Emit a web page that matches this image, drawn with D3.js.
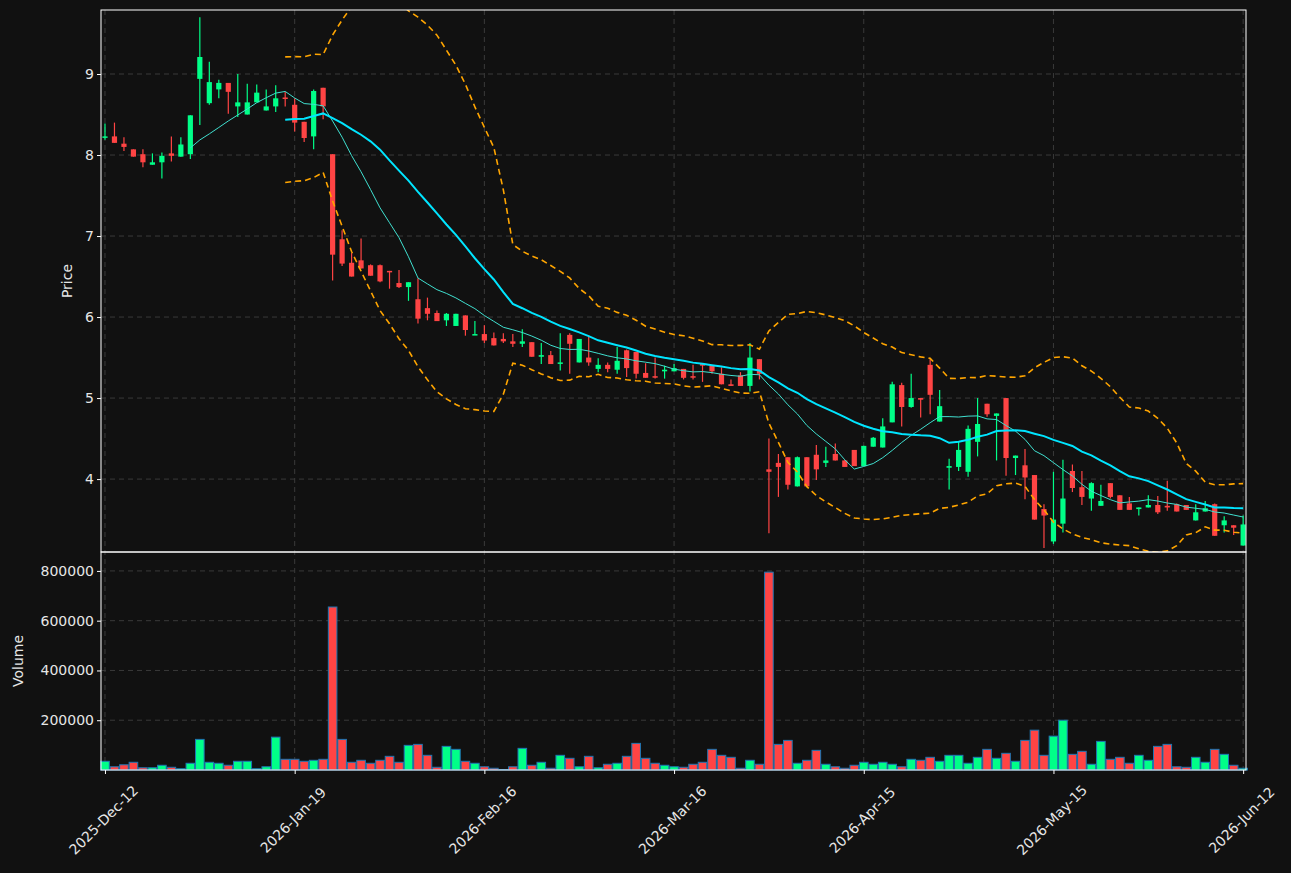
<!DOCTYPE html>
<html><head><meta charset="utf-8">
<script src="https://cdn.jsdelivr.net/npm/d3@7"></script>
<style>body{margin:0;background:#111111;}svg{display:block;font-family:"DejaVu Sans",sans-serif;}</style>
</head><body><svg id="c" width="1291" height="873"></svg>
<script>
const openP=[8.22,8.23,8.14,8.07,8.01,7.88,7.91,8.02,7.98,8.01,8.94,8.64,8.81,8.89,8.60,8.50,8.65,8.55,8.60,8.71,
8.62,8.41,8.23,8.83,8.01,6.96,6.67,6.70,6.64,6.64,6.57,6.42,6.37,6.22,6.11,6.05,5.96,5.89,6.02,5.78,
5.79,5.74,5.73,5.70,5.67,5.69,5.51,5.53,5.43,5.78,5.44,5.50,5.36,5.41,5.35,5.59,5.57,5.31,5.27,5.33,
5.33,5.36,5.27,5.42,5.40,5.30,5.17,5.28,5.15,5.48,4.12,4.20,4.27,3.91,4.27,4.30,4.20,4.31,4.23,4.36,
4.16,4.40,4.39,4.70,5.16,4.89,5.00,5.41,4.71,4.14,4.15,4.09,4.46,4.93,4.78,5.00,4.26,4.17,4.05,3.63,
3.23,3.45,4.10,3.90,3.76,3.67,3.95,3.80,3.70,3.63,3.65,3.68,3.67,3.69,3.68,3.49,3.60,3.69,3.43,3.43,3.18];
const closeP=[8.23,8.15,8.10,7.98,7.91,7.91,7.99,7.99,8.13,8.49,9.21,8.90,8.89,8.78,8.65,8.65,8.77,8.60,8.70,8.70,
8.40,8.21,8.79,8.60,6.77,6.66,6.50,6.60,6.51,6.44,6.56,6.37,6.43,5.98,6.04,5.95,6.04,6.04,5.84,5.79,
5.71,5.65,5.70,5.67,5.70,5.51,5.53,5.42,5.44,5.67,5.73,5.44,5.41,5.36,5.46,5.37,5.30,5.25,5.26,5.35,
5.37,5.25,5.26,5.40,5.33,5.17,5.15,5.15,5.50,5.30,4.09,4.15,3.93,4.27,3.91,4.12,4.23,4.23,4.15,4.16,
4.41,4.51,4.65,5.17,4.89,5.00,4.98,5.04,4.90,4.16,4.36,4.62,4.68,4.80,4.81,4.26,4.29,4.02,3.50,3.55,
3.50,3.76,3.89,3.78,3.95,3.73,3.78,3.62,3.62,3.65,3.68,3.59,3.65,3.60,3.62,3.59,3.64,3.30,3.49,3.40,3.44];
const highP=[8.39,8.40,8.22,8.07,8.07,8.02,8.03,8.23,8.22,8.49,9.70,9.15,8.93,8.89,9.00,8.88,8.87,8.81,8.86,8.78,
8.70,8.41,8.81,8.83,8.01,7.07,6.79,6.97,6.65,6.65,6.57,6.58,6.43,6.48,6.24,6.08,6.05,6.04,6.02,5.95,
5.90,5.81,5.80,5.79,5.85,5.69,5.68,5.58,5.80,5.80,5.73,5.77,5.49,5.44,5.63,5.60,5.57,5.43,5.50,5.40,
5.42,5.36,5.41,5.42,5.40,5.38,5.23,5.32,5.68,5.48,4.50,4.31,4.27,4.28,4.27,4.42,4.40,4.44,4.24,4.36,
4.41,4.52,4.75,5.20,5.19,5.30,5.00,5.48,5.10,4.25,4.46,4.66,5.00,4.93,4.81,5.00,4.29,4.37,4.05,3.69,
4.09,4.24,4.18,4.10,3.96,3.93,3.95,3.80,3.78,3.65,3.80,3.79,3.98,3.70,3.68,3.69,3.73,3.70,3.54,3.43,3.55];
const lowP=[8.19,8.15,8.05,7.98,7.85,7.88,7.71,7.92,7.98,7.95,8.37,8.62,8.70,8.51,8.47,8.50,8.65,8.55,8.53,8.60,
8.29,8.16,8.07,8.44,6.45,6.63,6.50,6.60,6.51,6.43,6.35,6.36,6.20,5.92,5.96,5.95,5.89,5.89,5.77,5.78,
5.68,5.65,5.68,5.63,5.63,5.51,5.42,5.42,5.34,5.30,5.44,5.40,5.32,5.32,5.30,5.26,5.24,5.25,5.24,5.24,
5.33,5.23,5.23,5.20,5.30,5.17,5.15,5.15,5.08,5.23,3.33,3.78,3.87,3.91,3.91,3.99,4.15,4.23,4.15,4.16,
4.16,4.40,4.39,4.70,4.65,4.88,4.76,4.80,4.71,3.87,4.10,4.03,4.28,4.77,4.23,4.04,4.05,3.75,3.50,3.15,
3.20,3.34,3.84,3.68,3.61,3.67,3.76,3.62,3.62,3.55,3.65,3.57,3.61,3.60,3.62,3.49,3.60,3.30,3.34,3.31,3.18];
const volumes=[35000,13000,21000,31000,9000,9000,19000,11000,5000,27000,123000,31000,27000,19000,35000,35000,5000,13000,132000,43000,
43000,35000,39000,43000,655000,123000,31000,39000,27000,39000,55000,31000,99000,103000,59000,11000,95000,83000,35000,27000,
13000,7000,2000,13000,87000,19000,31000,7000,59000,47000,13000,55000,9000,23000,27000,55000,107000,47000,27000,19000,
13000,11000,23000,31000,83000,59000,51000,7000,39000,23000,795000,103000,119000,27000,39000,79000,23000,13000,7000,19000,
31000,23000,31000,23000,13000,43000,39000,51000,35000,59000,59000,27000,51000,83000,47000,67000,35000,119000,160000,59000,
136000,200000,63000,75000,23000,115000,43000,51000,27000,59000,39000,95000,103000,13000,11000,51000,31000,83000,63000,19000,7000];
const tickIdx=[0,20,40,60,80,100,120];
const tickLabels=["2025-Dec-12","2026-Jan-19","2026-Feb-16","2026-Mar-16","2026-Apr-15","2026-May-15","2026-Jun-12"];
const priceTicks=[4,5,6,7,8,9];
const volTicks=[200000,400000,600000,800000];

const svg=d3.select("#c");
const L=101,R=1246,T=10,M=552,B=770;
const n=closeP.length;
const x=d3.scaleLinear().domain([-0.42,120.3]).range([L,R]);
const y=d3.scaleLinear().domain([3.10,9.79]).range([M,T]);
const yv=d3.scaleLinear().domain([0,876000]).range([B,M]);
const up="#00ff88",dn="#ff4444",grid="#3a3a3a",txt="#e6e6e6";
svg.append("rect").attr("width",1291).attr("height",873).attr("fill","#111111");

const g=svg.append("g");
tickIdx.forEach(i=>{g.append("line").attr("x1",x(i)).attr("x2",x(i)).attr("y1",T).attr("y2",B).attr("stroke",grid).attr("stroke-dasharray","5,4");});
priceTicks.forEach(v=>{g.append("line").attr("x1",L).attr("x2",R).attr("y1",y(v)).attr("y2",y(v)).attr("stroke",grid).attr("stroke-dasharray","5,4");});
volTicks.forEach(v=>{g.append("line").attr("x1",L).attr("x2",R).attr("y1",yv(v)).attr("y2",yv(v)).attr("stroke",grid).attr("stroke-dasharray","5,4");});

const idx=d3.range(n);
svg.append("clipPath").attr("id","cp").append("rect").attr("x",L).attr("y",T).attr("width",R-L).attr("height",M-T);
const cg=svg.append("g").attr("clip-path","url(#cp)");
idx.forEach(i=>{
  const c=closeP[i]>=openP[i]?up:dn;
  cg.append("line").attr("x1",x(i)).attr("x2",x(i)).attr("y1",y(highP[i])).attr("y2",y(lowP[i])).attr("stroke",c).attr("stroke-width",1.2);
  const t=y(Math.max(openP[i],closeP[i])),b=y(Math.min(openP[i],closeP[i]));
  cg.append("rect").attr("x",x(i)-2.6).attr("width",5.2).attr("y",t).attr("height",Math.max(1.5,b-t)).attr("fill",c);
});
function ma(k){return idx.map(i=>i<k-1?null:d3.mean(closeP.slice(i-k+1,i+1)));}
const ma10=ma(10),ma20=ma(20);
const sd=idx.map(i=>i<19?null:d3.deviation(closeP.slice(i-19,i+1))*Math.sqrt(19/20));
const upper=idx.map(i=>i<19?null:ma20[i]+2*sd[i]);
const lower=idx.map(i=>i<19?null:ma20[i]-2*sd[i]);
const line=arr=>d3.line().defined(i=>arr[i]!=null).x(i=>x(i)).y(i=>y(arr[i]))(idx);
cg.append("path").attr("d",line(ma10)).attr("fill","none").attr("stroke","#40e0d0").attr("stroke-width",1);
cg.append("path").attr("d",line(ma20)).attr("fill","none").attr("stroke","#00e5ff").attr("stroke-width",2);
[upper,lower].forEach(a=>cg.append("path").attr("d",line(a)).attr("fill","none").attr("stroke","#ffa500").attr("stroke-width",1.6).attr("stroke-dasharray","6,4"));

const vg=svg.append("g");
idx.forEach(i=>{
  const c=closeP[i]>=openP[i]?up:dn;
  vg.append("rect").attr("x",x(i)-4.3).attr("width",8.6).attr("y",yv(volumes[i])).attr("height",B-yv(volumes[i])).attr("fill",c).attr("stroke","#1f77b4").attr("stroke-width",1);
});

[[T,M],[M,B]].forEach(([a,b])=>svg.append("rect").attr("x",L).attr("y",a).attr("width",R-L).attr("height",b-a).attr("fill","none").attr("stroke","#ffffff").attr("stroke-width",1));

const ay=svg.append("g").attr("transform",`translate(${L},0)`).call(d3.axisLeft(y).tickValues(priceTicks).tickSize(4).tickFormat(d3.format("d")));
const av=svg.append("g").attr("transform",`translate(${L},0)`).call(d3.axisLeft(yv).tickValues(volTicks).tickSize(4).tickFormat(d3.format("d")));
const ax=svg.append("g").attr("transform",`translate(0,${B})`).call(d3.axisBottom(x).tickValues(tickIdx).tickSize(4).tickFormat((d,k)=>tickLabels[k]));
[ay,av,ax].forEach(a=>{a.select(".domain").remove();a.selectAll("line").attr("stroke","#fff");a.selectAll("text").attr("fill",txt).style("font-size","14px").style("font-family","DejaVu Sans");});
ax.selectAll("text").attr("text-anchor","middle").attr("y",0).attr("dy","0.35em").attr("transform","translate(-2,50) rotate(-45)");
svg.append("text").attr("transform",`translate(72,${(T+M)/2}) rotate(-90)`).attr("text-anchor","middle").attr("fill",txt).style("font-size","14px").text("Price");
svg.append("text").attr("transform",`translate(23,${(M+B)/2}) rotate(-90)`).attr("text-anchor","middle").attr("fill",txt).style("font-size","14px").text("Volume");
</script></body></html>
